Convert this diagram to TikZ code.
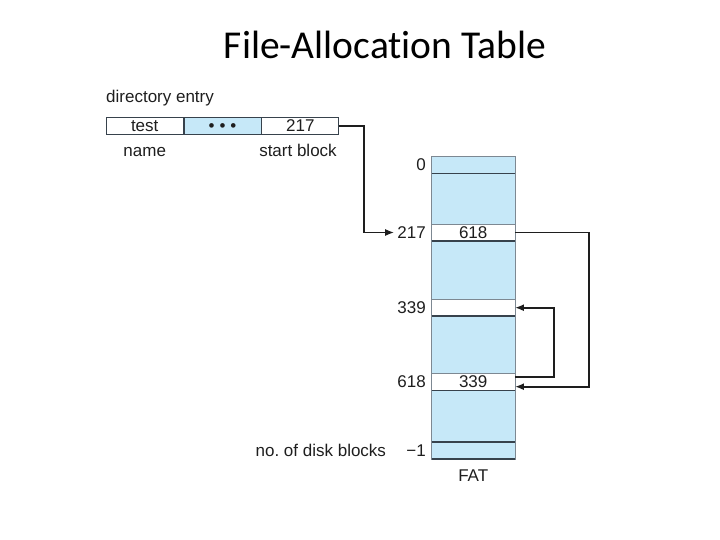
\documentclass[tikz,border=0pt]{standalone}
\usepackage{fontspec}
\setmainfont{Liberation Sans}
\newfontfamily\titlefont[Ligatures=NoCommon]{Carlito}
\usetikzlibrary{arrows.meta,positioning}
\definecolor{fatblue}{RGB}{198,232,248}
\definecolor{edgedark}{RGB}{55,66,76}
\definecolor{edgelight}{RGB}{125,136,146}
\definecolor{ink}{RGB}{30,30,30}
\tikzset{
  cell/.style={draw=edgedark,line width=0.8pt,minimum width=77pt,minimum height=16.6pt,
    inner sep=0pt,text height=12pt,text depth=0pt,font=\fontsize{17}{19}\selectfont,text=ink},
  fatrow/.style={fill=white,minimum width=83pt,minimum height=16.6pt,inner sep=0pt,
    font=\fontsize{17}{19}\selectfont,text=ink},
  lbl/.style={font=\fontsize{17}{19}\selectfont,text=ink,inner sep=0pt},
  sepline/.style={draw=edgedark,line width=1.6pt},
  thinline/.style={draw=edgelight,line width=0.8pt},
  link/.style={draw=ink,line width=1.8pt,-{Latex[length=9pt,width=7pt]}},
}
\begin{document}
\frenchspacing
\begin{tikzpicture}[x=1pt,y=-1pt,line join=miter]
  \useasboundingbox (0,0) rectangle (720,540);
  \node[font=\titlefont\fontsize{39.5}{42}\selectfont,anchor=base] (title) at (385,59) {File-Allocation Table};
  % directory entry
  \node[lbl,anchor=base west] (dirlbl) at (106,103) {directory entry};
  \node[cell] (test) at (144.7,126) {test};
  \node[cell,fill=fatblue,right=0pt of test] (dots) {\textbullet\hspace{5pt}\textbullet\hspace{5pt}\textbullet};
  \node[cell,right=0pt of dots] (start) {217};
  \node[lbl,anchor=base] (namelbl) at (144.7,156.5) {name};
  \node[lbl,anchor=base] (startlbl) at (298,156.5) {start block};
  % FAT column
  \node[fill=fatblue,minimum width=83pt,minimum height=302.3pt,inner sep=0pt] (fat) at (473.2,307.85) {};
  \node[fatrow,fill=fatblue] (r0) at (473.2,165) {};
  \node[fatrow] (r217) at (473.2,232.5) {618};
  \node[fatrow] (r339) at (473.2,307.7) {};
  \node[fatrow] (r618) at (473.2,382) {339};
  \node[fatrow,fill=fatblue] (rend) at (473.2,450.7) {};
  \draw[thinline] (fat.north west) rectangle (fat.south east);
  \foreach \r in {r0,r217,r339,r618}{\draw[sepline] (\r.south west) -- (\r.south east);}
  \foreach \r in {r217,r339,r618}{\draw[thinline] (\r.north west) -- (\r.north east);}
  \draw[sepline] (rend.north west) -- (rend.north east);
  \draw[sepline] (rend.south west) -- (rend.south east);
  % block numbers
  \node[lbl,anchor=east] (l0) at (426,165) {0};
  \node[lbl,anchor=east] (l217) at (426,232.5) {217};
  \node[lbl,anchor=east] (l339) at (426,307.7) {339};
  \node[lbl,anchor=east] (l618) at (426,382) {618};
  \node[lbl,anchor=east] (lend) at (426,450.5) {−1};
  \node[lbl,left=20pt of lend] (nblocks) {no. of disk blocks};
  \node[lbl,anchor=base] (fatlbl) at (473.2,481.5) {FAT};
  % chain
  \draw[link] (start.east) -- ++(24.5,0) |- ([xshift=-3pt]l217.west);
  \draw[link] (r217.east) -- ++(74.3,0) |- ([yshift=-4.7pt]r618.east);
  \draw[link] ([yshift=5.3pt]r618.east) -- ++(39.3,0) |- (r339.east);
\end{tikzpicture}
\end{document}
